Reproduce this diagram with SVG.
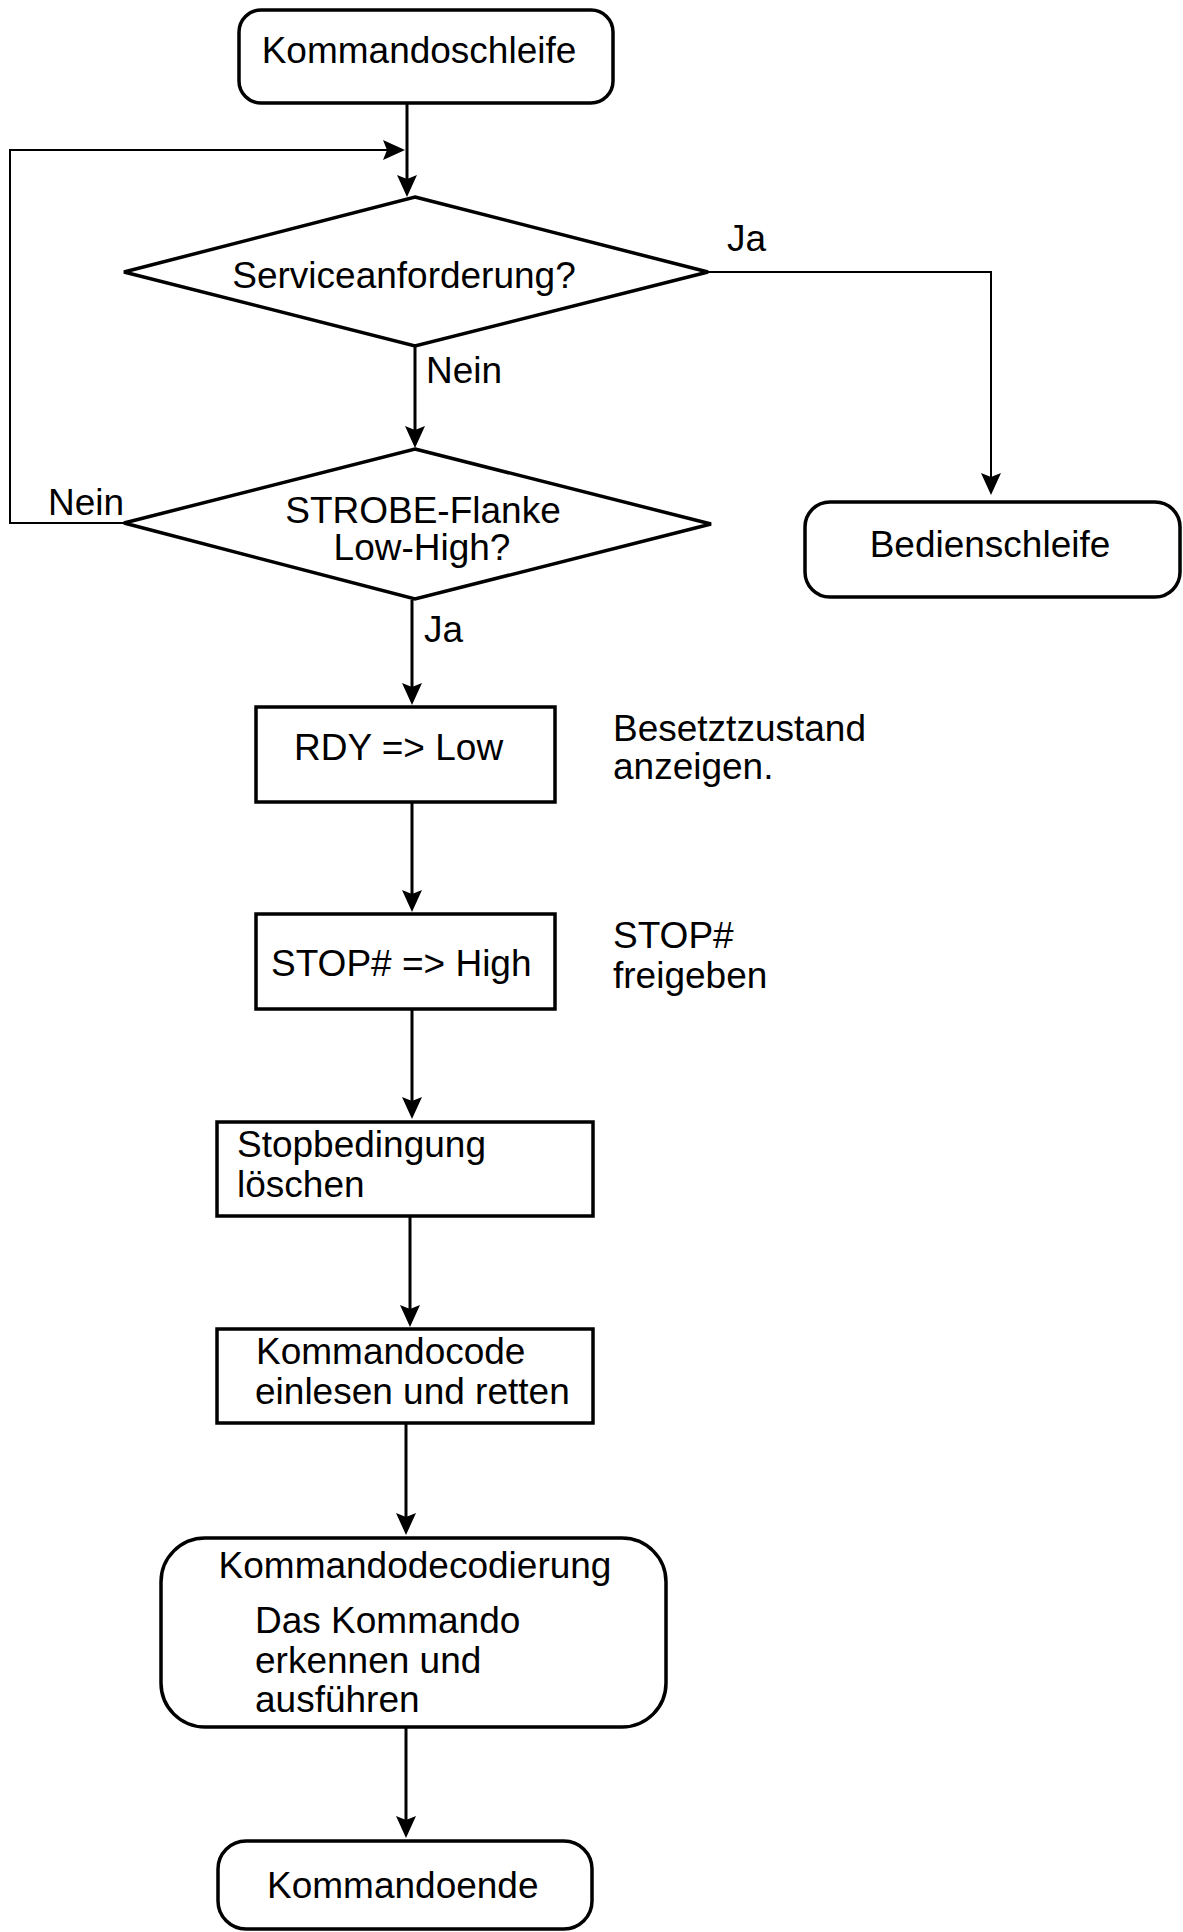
<svg xmlns="http://www.w3.org/2000/svg" width="1183" height="1932" viewBox="0 0 1183 1932">
  <style>
    .shape { fill: #fff; stroke: #000; stroke-width: 3.5; }
    .edge { fill: none; stroke: #000; stroke-width: 3; marker-end: url(#arrow); }
    .edge.thin { stroke-width: 2; }
    text { font-family: "Liberation Sans", Arial, sans-serif; font-size: 37px; fill: #000; }
    .mid { text-anchor: middle; }
  </style>
  <defs>
    <marker id="arrow" viewBox="0 0 22 20" markerWidth="22" markerHeight="20" refX="17" refY="10" orient="auto" markerUnits="userSpaceOnUse">
      <path d="M0,0 L22,10 L0,20 L4,10 Z" fill="#000"/>
    </marker>
  </defs>
  <rect width="1183" height="1932" fill="#fff"/>

  <!-- connectors -->
  <g id="connectors">
    <path class="edge" d="M407,104 V192"/>
    <path class="edge thin" d="M124,523 H10 V150 H400"/>
    <path class="edge thin" d="M708,272 H991 V490"/>
    <path class="edge" d="M415,346 V443"/>
    <path class="edge" d="M412,600 V700"/>
    <path class="edge" d="M412,802 V907"/>
    <path class="edge" d="M412,1009 V1114"/>
    <path class="edge" d="M410,1216 V1322"/>
    <path class="edge" d="M406,1423 V1530"/>
    <path class="edge" d="M406,1727 V1833"/>
  </g>

  <!-- edge labels -->
  <g id="labels">
    <text x="426" y="383">Nein</text>
    <text x="48" y="515">Nein</text>
    <text x="727" y="251">Ja</text>
    <text x="424" y="642">Ja</text>
  </g>

  <g id="start">
    <rect class="shape" x="239" y="10" width="374" height="93" rx="22"/>
    <text class="mid" x="419" y="63">Kommandoschleife</text>
  </g>

  <g id="service">
    <polygon class="shape" points="415,197 708,272 415,346 124,272"/>
    <text class="mid" x="404" y="288">Serviceanforderung?</text>
  </g>

  <g id="strobe">
    <polygon class="shape" points="415,449 711,524 415,599 124,523"/>
    <text class="mid" x="423" y="523">STROBE-Flanke</text>
    <text class="mid" x="422" y="560">Low-High?</text>
  </g>

  <g id="bedien">
    <rect class="shape" x="805" y="502" width="375" height="95" rx="25"/>
    <text class="mid" x="990" y="557">Bedienschleife</text>
  </g>

  <g id="rdy">
    <rect class="shape" x="256" y="707" width="299" height="95"/>
    <text x="294" y="760">RDY =&gt; Low</text>
    <text x="613" y="741">Besetztzustand</text>
    <text x="613" y="779">anzeigen.</text>
  </g>

  <g id="stop">
    <rect class="shape" x="256" y="914" width="299" height="95"/>
    <text x="271" y="976">STOP# =&gt; High</text>
    <text x="613" y="948">STOP#</text>
    <text x="613" y="988">freigeben</text>
  </g>

  <g id="stopbedingung">
    <rect class="shape" x="217" y="1122" width="376" height="94"/>
    <text x="237" y="1157">Stopbedingung</text>
    <text x="237" y="1197">löschen</text>
  </g>

  <g id="kommandocode">
    <rect class="shape" x="217" y="1329" width="376" height="94"/>
    <text x="256" y="1364">Kommandocode</text>
    <text x="255" y="1404">einlesen und retten</text>
  </g>

  <g id="decodierung">
    <rect class="shape" x="161" y="1538" width="505" height="189" rx="44"/>
    <text class="mid" x="415" y="1578">Kommandodecodierung</text>
    <text x="255" y="1633">Das Kommando</text>
    <text x="255" y="1673">erkennen und</text>
    <text x="255" y="1712">ausführen</text>
  </g>

  <g id="ende">
    <rect class="shape" x="218" y="1841" width="374" height="88" rx="28"/>
    <text x="267" y="1898">Kommandoende</text>
  </g>
</svg>
